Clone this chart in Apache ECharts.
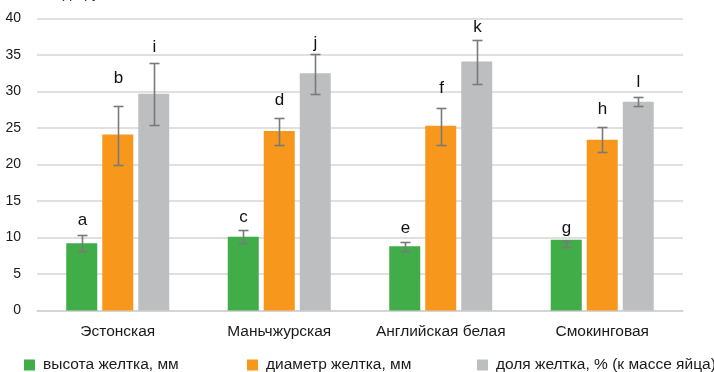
<!DOCTYPE html>
<html><head><meta charset="utf-8">
<script src="https://cdn.jsdelivr.net/npm/echarts@6/dist/echarts.min.js"></script>
<style>html,body{margin:0;padding:0;background:#fff}#c{width:714px;height:372px}</style>
</head><body><div id="c"></div>
<script>
var categories = ['Эстонская', 'Маньчжурская', 'Английская белая', 'Смокинговая'];
var seriesNames = ['высота желтка, мм', 'диаметр желтка, мм', 'доля желтка, % (к массе яйца)'];
var heightVals = [9.2, 10.1, 8.8, 9.7];
var heightLow  = [8.1, 9.2, 8.1, 8.7];
var heightHigh = [10.4, 11.0, 9.4, 9.5];
var diamVals = [24.1, 24.6, 25.3, 23.4];
var diamLow  = [20.0, 22.7, 22.7, 21.7];
var diamHigh = [28.0, 26.4, 27.7, 25.1];
var shareVals = [29.7, 32.5, 34.1, 28.6];
var shareLow  = [25.4, 29.6, 31.0, 28.0];
var shareHigh = [33.9, 35.1, 37.1, 29.2];
var heightLetters = ['a', 'c', 'e', 'g'];
var diamLetters = ['b', 'd', 'f', 'h'];
var shareLetters = ['i', 'j', 'k', 'l'];
var heightLetterY = [12.4, 12.8, 11.2, 11.3];
var diamLetterY = [31.8, 28.8, 30.5, 27.5];
var shareLetterY = [36.0, 36.6, 38.8, 31.3];
var yTicks = [0, 5, 10, 15, 20, 25, 30, 35, 40];

var colors = ['#41AD49', '#F7981D', '#BDBEC0'];
var BW = 31, GAP = 5;
var FONT = '"Liberation Sans", Arial, sans-serif';
var groups = [
  {vals: heightVals, low: heightLow, high: heightHigh, letters: heightLetters, ly: heightLetterY},
  {vals: diamVals, low: diamLow, high: diamHigh, letters: diamLetters, ly: diamLetterY},
  {vals: shareVals, low: shareLow, high: shareHigh, letters: shareLetters, ly: shareLetterY}
];

var series = [];
groups.forEach(function (g, si) {
  series.push({
    name: seriesNames[si], type: 'bar', data: g.vals, barWidth: BW, barGap: (GAP / BW * 100) + '%',
    itemStyle: {color: colors[si]}, silent: true
  });
});
groups.forEach(function (g, si) {
  var data = categories.map(function (c, i) { return [i, g.low[i], g.high[i], g.ly[i], g.letters[i]]; });
  series.push({
    type: 'custom', silent: true, z: 10,
    data: data,
    renderItem: function (params, api) {
      var ci = api.value(0);
      var lo = api.coord([ci, api.value(1)]);
      var hi = api.coord([ci, api.value(2)]);
      var lp = api.coord([ci, api.value(3)]);
      var x = Math.round(lo[0] + (si - 1) * (BW + GAP)) + 0.5;
      var y1 = Math.round(hi[1]) + 0.5, y2 = Math.round(lo[1]) + 0.5;
      var st = {stroke: '#7a7a7a', lineWidth: 1.6};
      return {type: 'group', children: [
        {type: 'line', shape: {x1: x, y1: y1, x2: x, y2: y2}, style: st},
        {type: 'line', shape: {x1: x - 5, y1: y1, x2: x + 5, y2: y1}, style: st},
        {type: 'line', shape: {x1: x - 5, y1: y2, x2: x + 5, y2: y2}, style: st},
        {type: 'text', x: x, y: lp[1], style: {text: data[params.dataIndex][4], fill: '#111', font: '17px ' + FONT, align: 'center', verticalAlign: 'middle'}}
      ]};
    }
  });
});

function legend(i, left) {
  return {
    data: [seriesNames[i]], left: left, top: 357, itemWidth: 11, itemHeight: 11, itemGap: 0,
    icon: 'rect', selectedMode: false, padding: 0,
    textStyle: {fontSize: 15.5, color: '#1a1a1a', fontFamily: FONT, padding: [0, 0, 0, 3]}
  };
}

var chart = echarts.init(document.getElementById('c'), null, {renderer: 'canvas'});
chart.setOption({
  animation: false,
  textStyle: {fontFamily: FONT},
  graphic: [{type: 'text', left: 4, top: -14, style: {text: 'мм, %, ед., рус', font: '15px ' + FONT, fill: '#333'}}],
  legend: [legend(0, 24), legend(1, 247), legend(2, 477)],
  grid: {left: 37, right: 31, top: 18.5, bottom: 61.5},
  xAxis: {
    type: 'category', data: categories,
    axisLine: {lineStyle: {color: '#d0d0d0', width: 1.5}}, axisTick: {show: false},
    axisLabel: {color: '#1a1a1a', fontSize: 15.5, margin: 13, interval: 0}
  },
  yAxis: {
    type: 'value', min: yTicks[0], max: yTicks[yTicks.length - 1], interval: yTicks[1] - yTicks[0],
    axisLine: {show: false}, axisTick: {show: false},
    axisLabel: {color: '#1a1a1a', fontSize: 14, margin: 16},
    splitLine: {lineStyle: {color: '#d6d6d6', width: 1.5}}
  },
  series: series
});
</script></body></html>
